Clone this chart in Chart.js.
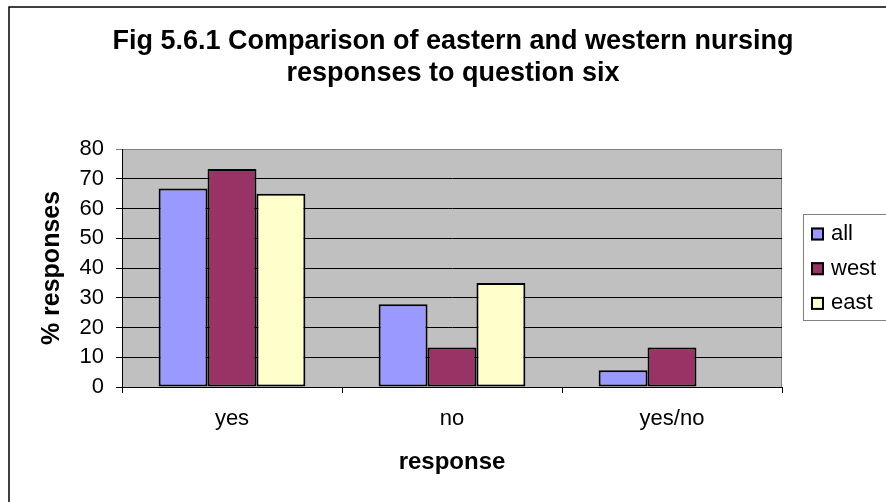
<!DOCTYPE html>
<html>
<head>
<meta charset="utf-8">
<title>Fig 5.6.1</title>
<script src="https://cdn.jsdelivr.net/npm/chart.js@4"></script>
<style>
    body { margin: 0; background: #fff; }
    #wrap { width: 886px; height: 502px; }
</style>
</head>
<body>
<div id="wrap"><canvas id="responseChart" width="886" height="502"></canvas></div>
<script>
const categories = ['yes', 'no', 'yes/no']
const seriesNames = ['all', 'west', 'east']
const allValues = [66.7, 27.8, 5.6]
const westValues = [73.3, 13.3, 13.3]
const eastValues = [65, 35, 0]
const yMin = 0
const yMax = 80
const yStep = 10

const font = 'Liberation Sans, Arial, sans-serif'
const colors = ['#9999FF', '#993366', '#FFFFCC']

// gray plot area, outer frame and the boxed legend on the right
const excelLook = {
    id: 'excelLook',
    beforeDraw(chart) {
        const { ctx, chartArea: a } = chart
        ctx.save()
        ctx.fillStyle = '#fff'
        ctx.fillRect(0, 0, chart.width, chart.height)
        ctx.fillStyle = '#C0C0C0'
        ctx.fillRect(a.left, a.top, a.right - a.left, a.bottom - a.top)
        ctx.strokeStyle = '#808080'
        ctx.lineWidth = 1
        ctx.strokeRect(a.left + 0.5, a.top + 0.5, a.right - a.left - 1, a.bottom - a.top)
        ctx.strokeStyle = '#000'
        ctx.lineWidth = 1.5
        ctx.strokeRect(9, 7, chart.width + 20, chart.height + 20)
        ctx.restore()
    },
    afterDraw(chart) {
        const { ctx } = chart
        ctx.save()
        ctx.fillStyle = '#fff'
        ctx.fillRect(803, 214, 100, 106)
        ctx.strokeStyle = '#808080'
        ctx.lineWidth = 1
        ctx.strokeRect(803.5, 214.5, 100, 106)
        ctx.font = '22px ' + font
        ctx.textBaseline = 'middle'
        chart.data.datasets.forEach((ds, i) => {
            const y = 234 + i * 34.7
            ctx.fillStyle = ds.backgroundColor
            ctx.fillRect(811, y - 6.5, 13, 13)
            ctx.strokeStyle = '#000'
            ctx.lineWidth = 2
            ctx.strokeRect(812, y - 5.5, 11, 11)
            ctx.fillStyle = '#000'
            ctx.fillText(ds.label, 831, y)
        })
        ctx.restore()
    }
}

const valueSets = [allValues, westValues, eastValues]

new Chart(document.getElementById('responseChart'), {
    type: 'bar',
    data: {
        labels: categories,
        datasets: seriesNames.map((name, i) => ({
            label: name,
            data: valueSets[i],
            backgroundColor: colors[i],
            borderColor: '#000',
            borderWidth: 2,
            borderSkipped: false,
            categoryPercentage: 0.667,
            barPercentage: 1
        }))
    },
    options: {
        responsive: false,
        animation: false,
        layout: { padding: { left: 20, right: 0, top: 16, bottom: 0 } },
        plugins: {
            legend: { display: false },
            tooltip: { enabled: false },
            title: {
                display: true,
                text: ['Fig 5.6.1 Comparison of eastern and western nursing', 'responses to question six'],
                color: '#000',
                font: { family: font, size: 27, weight: 'bold', lineHeight: 32 / 27 },
                padding: { top: 10, bottom: 59 }
            }
        },
        scales: {
            x: {
                afterFit: (scale) => { scale.height = 115 },
                grid: { drawOnChartArea: false, drawTicks: true, tickLength: 6, color: '#000', offset: true },
                border: { color: '#000', width: 1 },
                ticks: { color: '#000', font: { family: font, size: 22 }, padding: 13 },
                title: {
                    display: true,
                    text: 'response',
                    color: '#000',
                    font: { family: font, size: 24, weight: 'bold' },
                    padding: { top: 0, bottom: 25 }
                }
            },
            y: {
                min: yMin,
                max: yMax,
                afterFit: (scale) => { scale.width = 102 },
                grid: {
                    color: (c) => c.tick && c.tick.value === yMax ? '#808080' : '#000',
                    lineWidth: 1,
                    tickLength: 6
                },
                border: { color: '#000', width: 1 },
                ticks: { stepSize: yStep, color: '#000', font: { family: font, size: 22 }, padding: 12 },
                title: {
                    display: true,
                    text: '% responses',
                    color: '#000',
                    font: { family: font, size: 25, weight: 'bold' },
                    padding: { top: 17, bottom: 0 }
                }
            },
            // empty strip on the right that leaves room for the legend
            legendSpace: {
                type: 'linear',
                position: 'right',
                afterFit: (scale) => { scale.width = 104 },
                grid: { display: false },
                border: { display: false },
                ticks: { display: false }
            }
        }
    },
    plugins: [excelLook]
})
</script>
</body>
</html>
